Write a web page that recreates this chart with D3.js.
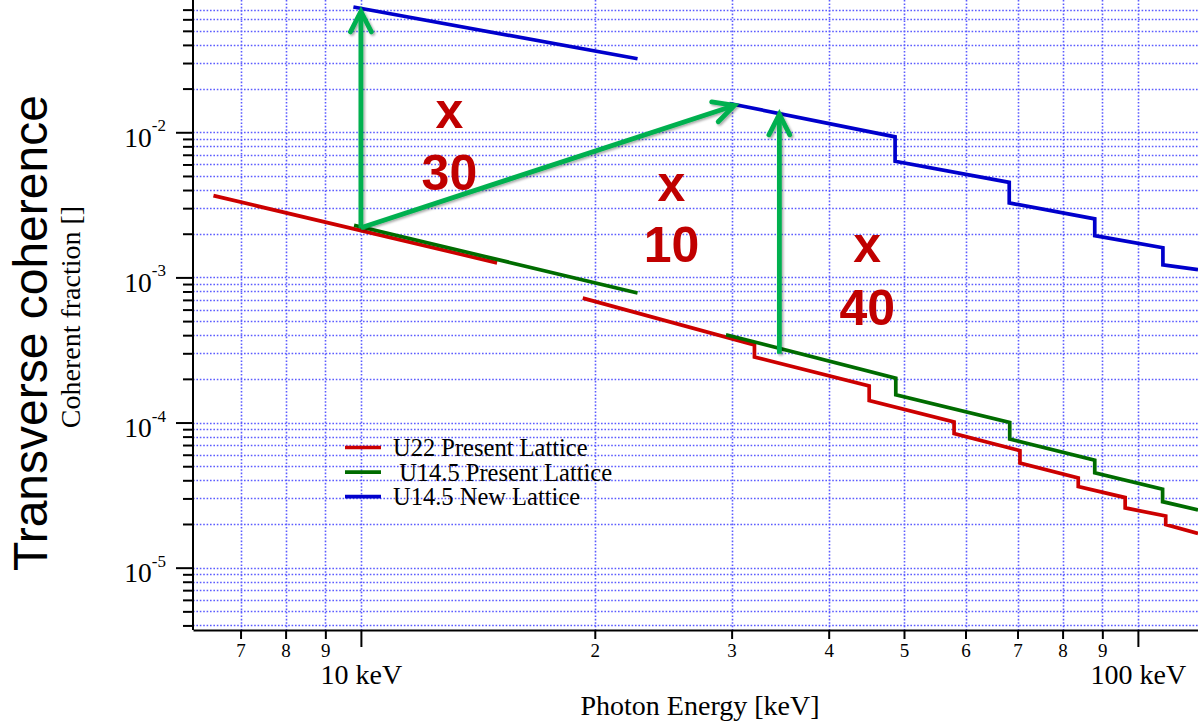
<!DOCTYPE html>
<html>
<head>
<meta charset="utf-8">
<script src="https://cdn.jsdelivr.net/npm/d3@7"></script>
<style>
body{margin:0;background:#fff}
svg{display:block}
</style>
</head>
<body>
<div id="chart"></div>
<script>
// coherent fraction vs photon energy, [keV, fraction]
// (a repeated energy is a harmonic switch, the line drops straight down there)
const u22Low = [[6.46,3.66e-3],[14.97,1.26e-3]]
const u22High = [[19.3,7.2e-4],[32.1,3.43e-4],[32.1,2.83e-4],[45.1,1.79e-4],[45.1,1.42e-4],[58.0,1.01e-4],[58.0,8.4e-5],
  [70.5,6.4e-5],[70.5,5.25e-5],[83.8,4.15e-5],[83.8,3.62e-5],[96.3,3.04e-5],[96.3,2.58e-5],[108.6,2.27e-5],[108.6,1.98e-5],[119.5,1.72e-5]]
const u145Low = [[9.8,2.29e-3],[22.7,7.8e-4]]
const u145High = [[29.5,4.03e-4],[48.8,2.02e-4],[48.8,1.55e-4],[68.4,1.0e-4],[68.4,7.7e-5],[88.0,5.5e-5],[88.0,4.5e-5],
  [107.6,3.47e-5],[107.6,2.85e-5],[119.5,2.5e-5]]
const newLow = [[9.78,7.3e-2],[22.7,3.21e-2]]
const newHigh = [[29.8,1.58e-2],[48.7,9.3e-3],[48.7,6.31e-3],[68.3,4.52e-3],[68.3,3.26e-3],[88.0,2.53e-3],[88.0,1.94e-3],
  [107.7,1.6e-3],[107.7,1.22e-3],[119.5,1.13e-3]]

const seriesNames = ["U22 Present Lattice"," U14.5 Present Lattice","U14.5 New Lattice"]
const seriesColors = ["#cc0000","#006c00","#0000cc"]
const seriesSegments = [[u22Low,u22High],[u145Low,u145High],[newLow,newHigh]]

const xTicksMinor = [7,8,9,20,30,40,50,60,70,80,90]
const xTickLabelsMinor = ["7","8","9","2","3","4","5","6","7","8","9"]
const xTicksMajor = [10,100]
const xTickLabelsMajor = ["10 keV","100 keV"]
const yTicksMajor = [1e-5,1e-4,1e-3,1e-2]
const yTickExponents = ["-5","-4","-3","-2"]

// gain arrows [from, to] and the "x N" labels [energy, value of x, value of number]
const gainArrows = [[[10,2.2e-3],[10,6.8e-2]],[[10,2.2e-3],[30.25,1.53e-2]],[[34.56,2.98e-4],[34.56,1.33e-2]]]
const gainLabels = ["30","10","40"]
const gainLabelPos = [[13.0,1.077e-2,3.98e-3],[25.1,3.38e-3,1.283e-3],[44.84,1.283e-3,4.72e-4]]

let W=1198, H=721
let plotLeft=193, plotTop=2, plotRight=1198, plotBottom=630
let serif='"Liberation Serif","Times New Roman",serif'
let sans='"Liberation Sans",Arial,sans-serif'

let svg=d3.select("#chart").append("svg")
  .attr("width",W).attr("height",H)

let x=d3.scaleLog().domain([6.08,119.5]).range([plotLeft,plotRight])
let y=d3.scaleLog().domain([3.72e-6,0.079]).range([plotBottom,plotTop])

let defs=svg.append("defs")
defs.append("clipPath").attr("id","plot")
  .append("rect").attr("x",plotLeft).attr("y",0).attr("width",plotRight-plotLeft).attr("height",plotBottom)
defs.append("filter").attr("id","shadow").attr("x","-20%").attr("y","-20%").attr("width","140%").attr("height","140%")
  .append("feDropShadow").attr("dx",1.5).attr("dy",1.5).attr("stdDeviation",1.2)
  .attr("flood-color","#000").attr("flood-opacity",0.35)

//Grid
let snap=v=>Math.round(v)+0.5
let grid=svg.append("g")
  .attr("stroke","#5c5cff")
  .attr("stroke-width",1.6).attr("stroke-dasharray","1.6,1.8")
grid.selectAll(".hg").data(y.ticks()).join("line")
  .attr("x1",plotLeft).attr("x2",plotRight)
  .attr("y1",d=>snap(y(d))).attr("y2",d=>snap(y(d)))
grid.selectAll(".vg").data(x.ticks()).join("line")
  .attr("y1",0).attr("y2",plotBottom)
  .attr("x1",d=>snap(x(d))).attr("x2",d=>snap(x(d)))

//Axes
let xMinor=svg.append("g").attr("transform",`translate(0,${plotBottom})`)
  .call(d3.axisBottom(x).tickValues(xTicksMinor).tickSize(9).tickSizeOuter(0).tickPadding(5)
    .tickFormat((d,i)=>xTickLabelsMinor[i]))
let xMajor=svg.append("g").attr("transform",`translate(0,${plotBottom})`)
  .call(d3.axisBottom(x).tickValues(xTicksMajor).tickSize(17).tickSizeOuter(0).tickPadding(17)
    .tickFormat((d,i)=>xTickLabelsMajor[i]))
xMinor.selectAll("text").attr("font-size",19)
xMajor.selectAll("text").attr("font-size",28)
xMajor.select(".domain").remove()

let yMinorVals=y.ticks().filter(d=>!yTicksMajor.some(m=>Math.abs(m-d)/m<1e-6))
let yMinor=svg.append("g").attr("transform",`translate(${plotLeft},0)`)
  .call(d3.axisLeft(y).tickValues(yMinorVals).tickSize(10).tickSizeOuter(0).tickFormat(""))
let yMajor=svg.append("g").attr("transform",`translate(${plotLeft},0)`)
  .call(d3.axisLeft(y).tickValues(yTicksMajor).tickSize(17).tickSizeOuter(0).tickFormat(""))
yMajor.select(".domain").remove()
yMinor.select(".domain").attr("d",`M0,0V${plotBottom}`)

svg.selectAll(".tick line,.domain").attr("stroke","#000").attr("stroke-width",2)
svg.selectAll(".tick text").attr("font-family",serif).attr("fill","#000")

let yLabels=svg.append("g").attr("font-family",serif).attr("fill","#000")
yTicksMajor.forEach((d,i)=>{
  let t=yLabels.append("text").attr("x",166).attr("y",y(d)+14.5).attr("text-anchor","end")
  t.append("tspan").attr("font-size",27.5).text("10")
  t.append("tspan").attr("font-size",17).attr("dy",-15.5).text(yTickExponents[i])
})

//Axis titles
svg.append("text")
  .attr("x",700).attr("y",715).attr("text-anchor","middle")
  .attr("font-family",serif).attr("font-size",28).text("Photon Energy [keV]")
svg.append("text")
  .attr("transform","translate(47,333) rotate(-90)").attr("text-anchor","middle")
  .attr("font-family",sans).attr("font-size",48).text("Transverse coherence")
svg.append("text")
  .attr("transform","translate(80,317) rotate(-90)").attr("text-anchor","middle")
  .attr("font-family",serif).attr("font-size",28).text("Coherent fraction []")

//Lines
let line=d3.line().x(d=>x(d[0])).y(d=>y(d[1]))
let lines=svg.append("g").attr("clip-path","url(#plot)")
seriesSegments.forEach((segs,i)=>{
  lines.selectAll(null).data(segs).join("path")
    .attr("d",line)
    .attr("fill","none")
    .attr("stroke",seriesColors[i])
    .attr("stroke-width",3.7)
})

//Legend
let legend=svg.append("g").attr("font-family",serif).attr("font-size",24.5)
seriesNames.forEach((name,i)=>{
  let ly=447.5+i*24.6
  legend.append("line").attr("x1",345).attr("x2",381).attr("y1",ly).attr("y2",ly)
    .attr("stroke",seriesColors[i]).attr("stroke-width",3.7)
  legend.append("text").attr("x",393).attr("y",ly+8.5)
    .style("white-space","pre").text(name)
})

//Gain arrows
let arrows=svg.append("g").attr("stroke","#00b050").attr("stroke-width",4.8)
  .attr("fill","none").attr("filter","url(#shadow)")
gainArrows.forEach(a=>{
  let x0=x(a[0][0]), y0=y(a[0][1]), x1=x(a[1][0]), y1=y(a[1][1])
  let ang=Math.atan2(y0-y1,x0-x1), len=23, spread=27*Math.PI/180
  let p1=[x1+len*Math.cos(ang-spread), y1+len*Math.sin(ang-spread)]
  let p2=[x1+len*Math.cos(ang+spread), y1+len*Math.sin(ang+spread)]
  arrows.append("path").attr("d",`M${x0},${y0}L${x1},${y1}`)
  arrows.append("path").attr("d",`M${p1[0]},${p1[1]}L${x1},${y1}L${p2[0]},${p2[1]}`)
    .attr("stroke-linejoin","miter").attr("stroke-linecap","round")
})

let gains=svg.append("g").attr("font-family",sans).attr("font-weight","bold")
  .attr("font-size",50).attr("fill","#c00000").attr("text-anchor","middle")
gainLabels.forEach((g,i)=>{
  let p=gainLabelPos[i]
  gains.append("text").attr("x",x(p[0])).attr("y",y(p[1])).text("x")
  gains.append("text").attr("x",x(p[0])).attr("y",y(p[2])).text(g)
})
</script>
</body>
</html>
